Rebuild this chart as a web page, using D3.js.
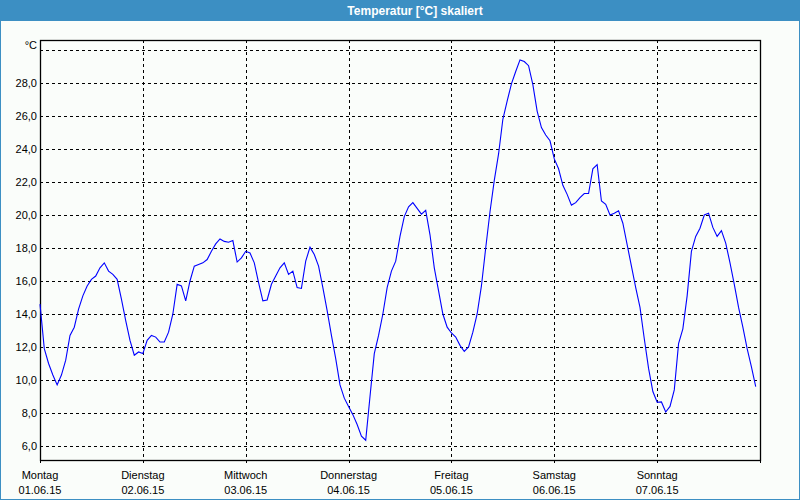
<!DOCTYPE html>
<html>
<head>
<meta charset="utf-8">
<script src="https://cdn.jsdelivr.net/npm/d3@7/dist/d3.min.js"></script>
<style>
  html, body { margin: 0; padding: 0; background: #fafdfa; }
  svg { display: block; }
  text { font-family: "Liberation Sans", Arial, sans-serif; }
</style>
</head>
<body>
<svg id="chart" width="800" height="500"></svg>
<script>
// ---- data ----
const title = "Temperatur [°C] skaliert";
const unitLabel = "°C";
const dayNames = ["Montag", "Dienstag", "Mittwoch", "Donnerstag", "Freitag", "Samstag", "Sonntag"];
const dayDates = ["01.06.15", "02.06.15", "03.06.15", "04.06.15", "05.06.15", "06.06.15", "07.06.15"];
const yTicks = [6, 8, 10, 12, 14, 16, 18, 20, 22, 24, 26, 28, 30];
// hourly temperatures, 01.06.15 00:00 to 07.06.15 23:00
const temps = [
  14.6, 11.9, 11.0, 10.3, 9.7, 10.3, 11.2, 12.7, 13.2, 14.3, 15.1, 15.7,
  16.1, 16.3, 16.8, 17.1, 16.6, 16.4, 16.1, 14.9, 13.6, 12.4, 11.5, 11.7,
  11.6, 12.4, 12.7, 12.6, 12.3, 12.3, 12.9, 14.0, 15.8, 15.7, 14.8, 16.0,
  16.9, 17.0, 17.1, 17.3, 17.8, 18.25, 18.55, 18.4, 18.35, 18.45, 17.15, 17.4,
  17.8, 17.7, 17.1, 15.9, 14.8, 14.85, 15.8, 16.3, 16.8, 17.1, 16.4, 16.6,
  15.6, 15.55, 17.2, 18.05, 17.6, 16.9, 15.6, 14.2, 12.7, 11.3, 9.7, 8.9,
  8.4, 7.9, 7.3, 6.6, 6.35, 9.0, 11.6, 12.7, 14.0, 15.6, 16.6, 17.2,
  18.7, 19.9, 20.5, 20.75, 20.4, 20.05, 20.28, 18.8, 16.8, 15.4, 14.0, 13.2,
  12.85, 12.6, 12.1, 11.73, 12.0, 12.9, 14.0, 15.7, 18.0, 20.2, 22.1, 23.7,
  25.8, 26.9, 27.95, 28.7, 29.4, 29.3, 29.05, 27.9, 26.3, 25.3, 24.85, 24.5,
  23.4, 22.8, 21.8, 21.25, 20.6, 20.75, 21.05, 21.3, 21.3, 22.8, 23.05, 20.85,
  20.65, 20.0, 20.1, 20.25, 19.5, 18.2, 16.9, 15.6, 14.4, 12.5, 10.7, 9.3,
  8.65, 8.67, 8.06, 8.4, 9.4, 12.2, 13.1, 15.1, 17.8, 18.7, 19.2, 20.0,
  20.1, 19.25, 18.7, 19.05, 18.3, 17.1, 15.8, 14.4, 13.2, 11.9, 10.8, 9.6
];

// ---- layout ----
const W = 800, H = 500;
const plot = { left: 40, right: 760, top: 40, bottom: 460 };

const svg = d3.select("#chart");

// background + frame of window
svg.append("rect").attr("x", 0).attr("y", 0).attr("width", W).attr("height", H)
  .attr("fill", "#fafdfa");
svg.append("rect").attr("x", 0.5).attr("y", 0.5).attr("width", W - 1).attr("height", H - 1)
  .attr("fill", "none").attr("stroke", "#3c8fc3").attr("stroke-width", 1);
svg.append("rect").attr("x", 0).attr("y", 0).attr("width", W).attr("height", 21)
  .attr("fill", "#3c8fc3");
svg.append("text").attr("x", 415).attr("y", 15).attr("text-anchor", "middle")
  .attr("fill", "#ffffff").attr("font-weight", "bold").attr("font-size", "12px")
  .text(title);

// scales
const x = d3.scaleLinear().domain([0, 7 * 24]).range([plot.left, plot.right]);
const y = d3.scaleLinear().domain([6 - 14 / 16.5, 30 + 10 / 16.5]).range([plot.bottom, plot.top]);

// horizontal grid lines
const gy = svg.append("g");
gy.selectAll("line").data(yTicks).join("line")
  .attr("x1", plot.left).attr("x2", plot.right)
  .attr("y1", d => Math.round(y(d)) + 0.5).attr("y2", d => Math.round(y(d)) + 0.5)
  .attr("stroke", "#000").attr("stroke-width", 1).attr("stroke-dasharray", "3,3");

// vertical grid lines + ticks
const dayIdx = d3.range(1, 7);
svg.append("g").selectAll("line").data(dayIdx).join("line")
  .attr("x1", d => Math.round(x(d * 24)) + 0.5).attr("x2", d => Math.round(x(d * 24)) + 0.5)
  .attr("y1", plot.top).attr("y2", plot.bottom + 4)
  .attr("stroke", "#000").attr("stroke-width", 1).attr("stroke-dasharray", "3,3");
svg.append("g").selectAll("line").data(d3.range(0, 8)).join("line")
  .attr("x1", d => Math.round(x(d * 24)) + 0.5).attr("x2", d => Math.round(x(d * 24)) + 0.5)
  .attr("y1", plot.bottom).attr("y2", plot.bottom + 3)
  .attr("stroke", "#000").attr("stroke-width", 1);

// y labels
svg.append("g").selectAll("text").data(yTicks.filter(d => d < 30)).join("text")
  .attr("x", 37).attr("y", d => y(d) + 4).attr("text-anchor", "end")
  .attr("font-size", "11px").attr("fill", "#000")
  .text(d => d3.format(".1f")(d).replace(".", ","));
svg.append("text").attr("x", 37).attr("y", 49).attr("text-anchor", "end")
  .attr("font-size", "11px").attr("fill", "#000").text(unitLabel);

// x labels
const xl = svg.append("g");
xl.selectAll("text.day").data(dayNames).join("text").attr("class", "day")
  .attr("x", (d, i) => x(i * 24)).attr("y", 479).attr("text-anchor", "middle")
  .attr("font-size", "11px").attr("fill", "#000").text(d => d);
xl.selectAll("text.date").data(dayDates).join("text").attr("class", "date")
  .attr("x", (d, i) => x(i * 24)).attr("y", 494).attr("text-anchor", "middle")
  .attr("font-size", "11px").attr("fill", "#000").text(d => d);

// frame
svg.append("rect").attr("x", plot.left + 0.5).attr("y", plot.top + 0.5)
  .attr("width", plot.right - plot.left).attr("height", plot.bottom - plot.top)
  .attr("fill", "none").attr("stroke", "#000").attr("stroke-width", 1.3);

// line
const line = d3.line().x((d, i) => x(i)).y(d => y(d));
svg.append("path").datum(temps).attr("d", line)
  .attr("fill", "none").attr("stroke", "#0000ff").attr("stroke-width", 1.1);
</script>
</body>
</html>
